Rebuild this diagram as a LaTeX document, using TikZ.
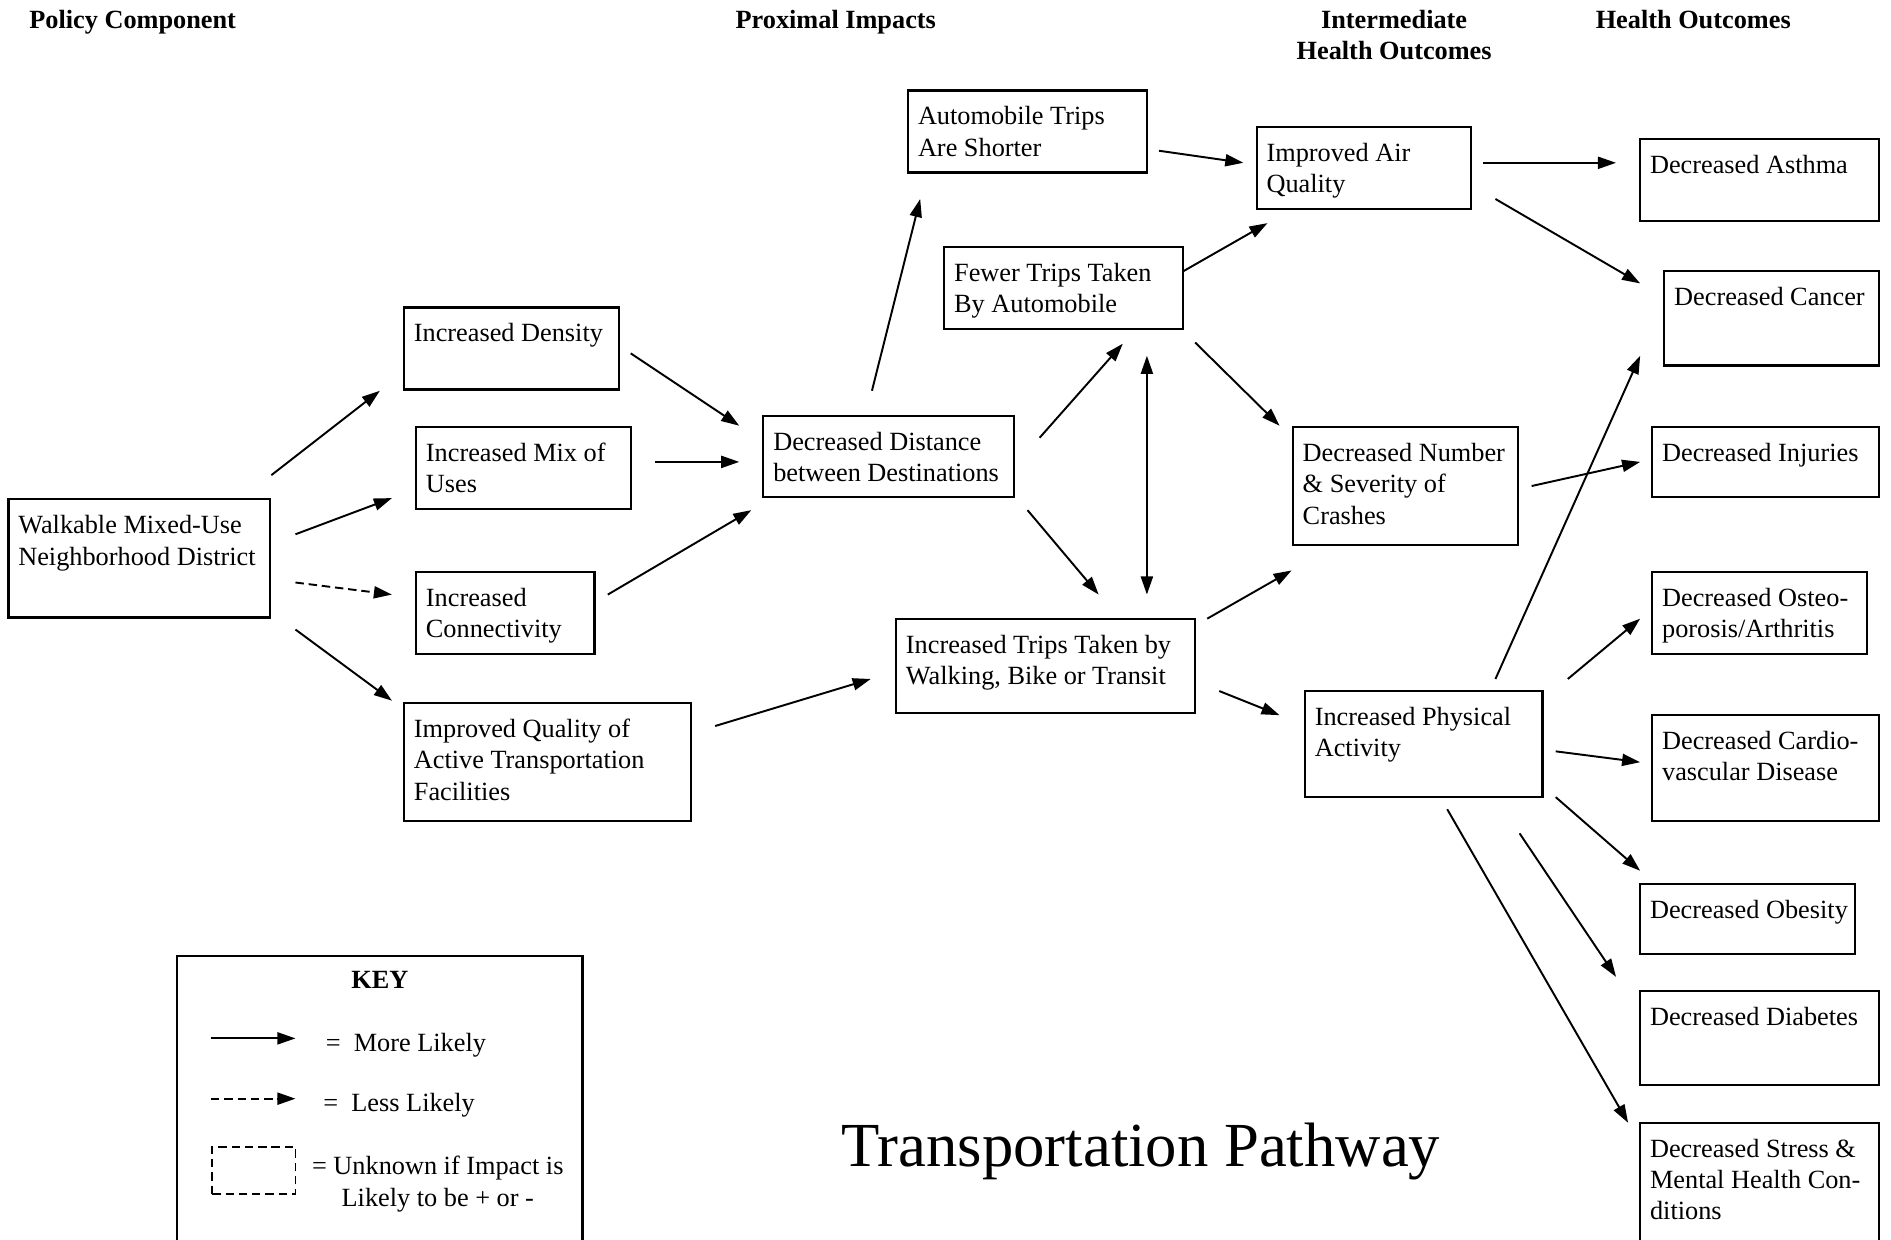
\documentclass[tikz,border=0pt]{standalone}
\usepackage{fontspec}
\setmainfont{Liberation Serif}
\usetikzlibrary{arrows.meta,calc}
\newcommand\nodebox[6]{%
  \node[box, minimum width={(#4)-(#2)}, minimum height={(#5)-(#3)}] (#1) at (#2,#3) {};
  \node[txt] (#1-t) at ($(#1.north west)+(8,28.5)$) {\parbox[t]{400pt}{#6}};}
\begin{document}
\begin{tikzpicture}[x=1pt,y=-1pt,
  box/.style={draw, line width=1.8pt, rectangle, anchor=north west, inner sep=0pt, outer sep=0pt},
  txt/.style={anchor=base west, inner sep=0pt, font=\fontsize{21.8}{26}\selectfont},
  hdr/.style={anchor=base, inner sep=0pt, font=\fontsize{21.8}{25}\selectfont\bfseries},
  arr/.style={line width=1.6pt, -{Triangle[length=15pt,width=10pt]}},
  darr/.style={arr, dash pattern=on 7pt off 4pt},
]
\useasboundingbox (0,0) rectangle (1568,1028);
\clip (0,0) rectangle (1568,1028);

% headers
\node[hdr] (h1) at (110,24) {Policy Component};
\node[hdr] (h2) at (693,24) {Proximal Impacts};
\node[hdr] (h3) at (1156,24) {\parbox[t]{300pt}{\centering Intermediate\\Health Outcomes}};
\node[hdr] (h4) at (1404,24) {Health Outcomes};

% boxes
\nodebox{walk}{7}{414}{224}{512}{Walkable Mixed-Use\\Neighborhood District}
\nodebox{dens}{335}{255}{513}{323}{Increased Density}
\nodebox{mix}{345}{354}{523}{422}{Increased Mix of\\Uses}
\nodebox{conn}{345}{474}{493}{542}{Increased\\Connectivity}
\nodebox{qual}{335}{583}{573}{681}{Improved Quality of\\Active Transportation\\Facilities}
\nodebox{dist}{633}{345}{841}{412}{Decreased Distance\\between Destinations}
\nodebox{auto}{753}{75}{951}{143}{Automobile Trips\\Are Shorter}
\nodebox{fewer}{783}{205}{981}{273}{Fewer Trips Taken\\By Automobile}
\nodebox{wtrip}{743}{513}{991}{591}{Increased Trips Taken by\\Walking, Bike or Transit}
\nodebox{air}{1042}{105}{1220}{173}{Improved Air\\Quality}
\nodebox{crash}{1072}{354}{1259}{452}{Decreased Number\\\& Severity of\\Crashes}
\nodebox{phys}{1082}{573}{1279}{661}{Increased Physical\\Activity}
\nodebox{asth}{1360}{115}{1558}{183}{Decreased Asthma}
\nodebox{canc}{1380}{225}{1558}{303}{Decreased Cancer}
\nodebox{inj}{1370}{354}{1558}{412}{Decreased Injuries}
\nodebox{osteo}{1370}{474}{1548}{542}{Decreased Osteo-\\porosis/Arthritis}
\nodebox{cardio}{1370}{593}{1558}{681}{Decreased Cardio-\\vascular Disease}
\nodebox{obes}{1360}{733}{1538}{791}{Decreased Obesity}
\nodebox{diab}{1360}{822}{1558}{900}{Decreased Diabetes}
\nodebox{stress}{1360}{931}{1558}{1100}{Decreased Stress \&\\Mental Health Con-\\ditions}

% connectors
\draw[arr] ($(walk.north east)+(1,-20)$) -- ($(dens.south west)+(-20,1)$);
\draw[arr] ($(walk.north east)+(21,29)$) -- ($(mix.south west)+(-20,-9)$);
\draw[darr] ($(walk.north east)+(21,69)$) -- ($(conn.north west)+(-20,19)$);
\draw[arr] ($(walk.south east)+(21,10)$) -- ($(qual.north west)+(-10,-2)$);
\draw[arr] ($(dens.north east)+(10,38)$) -- ($(dist.north west)+(-20,8)$);
\draw[arr] ($(mix.north east)+(20,29)$) -- ($(dist.north west)+(-20,38)$);
\draw[arr] ($(conn.north east)+(11,19)$) -- ($(dist.south west)+(-10,11)$);
\draw[arr] ($(qual.north east)+(20,19)$) -- ($(wtrip.north west)+(-21,50)$);
\draw[arr] ($(dist.north west)+(90,-21)$) -- ($(auto.south west)+(10,22)$);
\draw[arr] ($(dist.north east)+(21,18)$) -- ($(fewer.south west)+(148,12)$);
\draw[arr] ($(dist.south east)+(11,11)$) -- ($(wtrip.north west)+(168,-20)$);
\draw[arr, {Triangle[length=15pt,width=10pt]}-{Triangle[length=15pt,width=10pt]}] ($(fewer.south west)+(168,22)$) -- ($(wtrip.north west)+(208,-20)$);
\draw[arr] ($(auto.north east)+(10,50)$) -- ($(air.north west)+(-11,30)$);
\draw[arr] ($(fewer.north east)+(0,20)$) -- ($(air.south west)+(9,12)$);
\draw[arr] ($(fewer.south east)+(10,11)$) -- ($(crash.north west)+(-11,-1)$);
\draw[arr] ($(wtrip.north east)+(10,0)$) -- ($(crash.south west)+(-1,21)$);
\draw[arr] ($(wtrip.north east)+(20,60)$) -- ($(phys.north west)+(-21,20)$);
\draw[arr] ($(air.north east)+(10,30)$) -- ($(asth.north west)+(-20,20)$);
\draw[arr] ($(air.north east)+(20,60)$) -- ($(canc.north west)+(-20,10)$);
\draw[arr] ($(crash.north east)+(11,49)$) -- ($(inj.north west)+(-10,29)$);
\draw[arr] ($(phys.north east)+(-39,-10)$) -- ($(canc.south west)+(-20,-8)$);
\draw[arr] ($(phys.north east)+(21,-10)$) -- ($(osteo.north west)+(-10,39)$);
\draw[arr] ($(phys.north east)+(11,50)$) -- ($(cardio.north west)+(-10,39)$);
\draw[arr] ($(phys.south east)+(11,0)$) -- ($(obes.north west)+(0,-11)$);
\draw[arr] ($(phys.south east)+(-19,30)$) -- ($(diab.north west)+(-20,-12)$);
\draw[arr] ($(phys.south west)+(118,10)$) -- ($(stress.north west)+(-10,0)$);

% key
\node[box, minimum width=336, minimum height=320] (key) at (147,793) {};
\node[hdr] (keyt) at (315,820) {KEY};
\coordinate (k1a) at (175,861);
\coordinate (k1b) at (245,861);
\draw[arr] (k1a) -- (k1b);
\node[txt] (k1t) at (270,872) {=\ \ More Likely};
\coordinate (k2a) at (175,911);
\coordinate (k2b) at (245,911);
\draw[darr] (k2a) -- (k2b);
\node[txt] (k2t) at (268,922) {=\ \ Less Likely};
\node[box, line width=1.4pt, dash pattern=on 7pt off 4pt, minimum width=69, minimum height=39] (kbox) at (176,951) {};
\node[txt, anchor=base] (k3t) at (363,974) {\parbox[t]{260pt}{\centering = Unknown if Impact is\\Likely to be + or -}};

% title
\node[anchor=base, inner sep=0pt, font=\fontsize{52}{60}\selectfont] (title) at (946,967) {Transportation Pathway};
\end{tikzpicture}
\end{document}
